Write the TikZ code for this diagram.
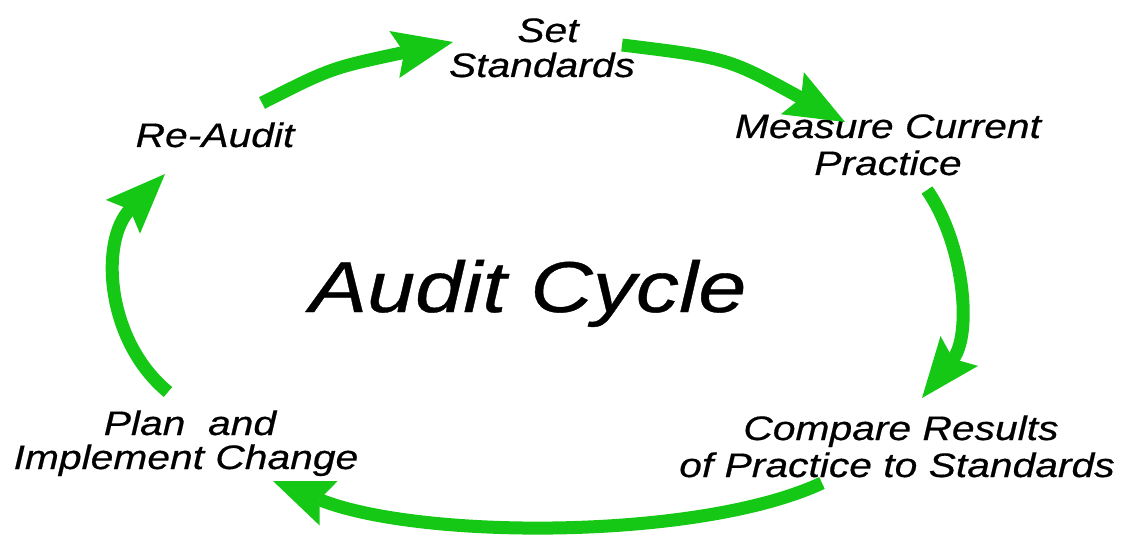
\documentclass[tikz,border=0pt]{standalone}
\usepackage{fontspec}
\setmainfont{Liberation Sans}[FakeStretch=1.2, ItalicFeatures={FakeBold=0.5}]
\usetikzlibrary{arrows.meta}
\definecolor{cyclegreen}{RGB}{22,200,22}
\tikzset{
  lbl/.style={anchor=base, inner sep=0pt, font=\fontsize{34}{40}\selectfont\itshape},
  ttl/.style={anchor=base, inner sep=0pt, font=\fontsize{72}{80}\selectfont\itshape},
  cyc/.style={draw=cyclegreen, line width=13pt,
    -{Stealth[length=60pt,width=48pt,inset=10pt,fill=cyclegreen,line width=0pt]}}
}
\begin{document}
\begin{tikzpicture}[x=1pt,y=-1pt]
\useasboundingbox (0,0) rectangle (1143,540);
% labels
\node[lbl] (set1) at (548,42) {Set};
\node[lbl] (set2) at (542,77) {Standards};
\node[lbl] (mea1) at (888,138) {Measure Current};
\node[lbl] (mea2) at (888,175) {Practice};
\node[lbl] (cmp1) at (901,440) {Compare Results};
\node[lbl] (cmp2) at (897,477) {of Practice to Standards};
\node[lbl] (pln1) at (190,435) {Plan\ \ and};
\node[lbl] (pln2) at (186,469) {Implement Change};
\node[lbl] (reau) at (215,147) {Re-Audit};
\node[ttl] (title) at (528,312) {Audit Cycle};
% arrow end points
\coordinate (a1s) at (262,103);
\coordinate (a1e) at (453,42);
\coordinate (a2s) at (622,45);
\coordinate (a2e) at (845,122);
\coordinate (a3s) at (927,190);
\coordinate (a3e) at (922,398);
\coordinate (a4s) at (822,483);
\coordinate (a4e) at (273,481);
\coordinate (a5s) at (168,392);
\coordinate (a5e) at (165,174);
% arrows
\draw[cyc] (a1s) .. controls (331,68) .. (a1e);
\draw[cyc] (a2s) .. controls (728,58) .. (a2e);
\draw[cyc] (a3s) .. controls (965,245) and (972,335) .. (a3e);
\draw[cyc] (a4s) .. controls (700,540) and (420,540) .. (a4e);
\draw[cyc] (a5s) .. controls (105,340) and (100,240) .. (a5e);
\end{tikzpicture}
\end{document}
